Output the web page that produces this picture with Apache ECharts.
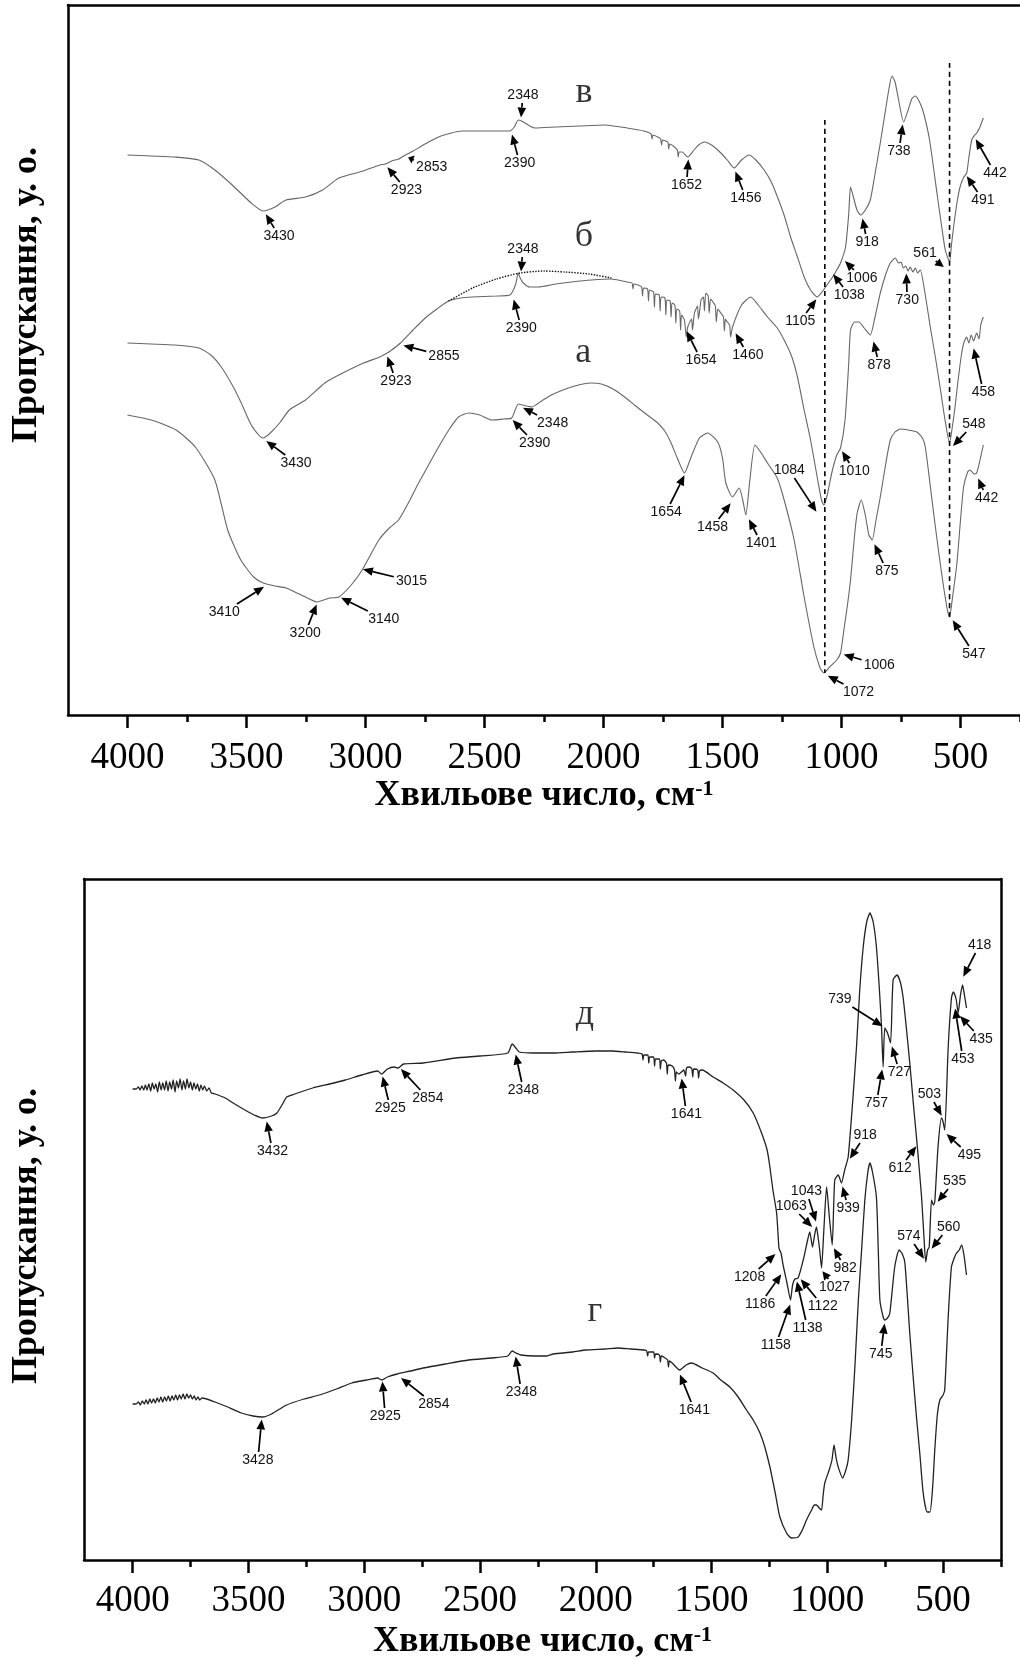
<!DOCTYPE html>
<html><head><meta charset="utf-8">
<script src="https://cdn.jsdelivr.net/npm/echarts@6/dist/echarts.min.js"></script>
<style>html,body{margin:0;padding:0;background:#fff}#c{width:1020px;height:1667px}</style>
</head><body><div id="c"></div>
<script>
// ---------- tick values (cm-1) ----------
const majorTicks = [4000,3500,3000,2500,2000,1500,1000,500];
const minorTicks = [3750,3250,2750,2250,1750,1250,750,250];

// ---------- top panel spectra: [wavenumber, transmittance a.u.] ----------
const spectrumV = [[4000,560],[3900,559],[3800,558],[3700,555],[3633,545],[3560,530],[3480,512],[3430,504],[3380,508],[3334,515],[3252,518],[3180,525],[3112,537],[3010,544],[2940,550],[2916,551],[2890,554],[2860,556],[2847,558],[2800,564],[2750,571],[2693,578],[2640,582],[2595,584],[2500,584],[2420,584],[2393,584],[2375,588],[2358,595],[2345,594],[2330,592],[2310,589],[2288,587],[2200,588],[2100,589],[1995,590],[1900,587],[1830,584],[1800,581],[1796,576],[1792,580],[1772,578],[1760,576],[1756,570],[1752,575],[1730,573],[1726,566],[1722,571],[1702,568],[1690,565],[1686,558],[1682,563],[1670,563],[1646,558],[1620,565],[1600,570],[1576,573],[1540,569],[1507,562],[1480,555],[1451,547],[1420,555],[1388,560],[1360,555],[1325,545],[1295,533],[1269,518],[1240,499],[1214,478],[1185,458],[1157,438],[1130,425],[1102,418],[1085,422],[1067,428],[1040,437],[1020,445],[1004,452],[983,468],[970,500],[962,528],[950,518],[935,505],[920,500],[900,505],[879,515],[860,540],[837,572],[815,605],[800,627],[788,639],[775,633],[760,615],[739,593],[720,605],[705,616],[690,619],[672,613],[655,602],[630,575],[599,522],[580,490],[564,465],[546,453],[538,470],[529,488],[515,512],[502,528],[488,537],[474,542],[465,557],[453,575],[440,580],[432,582],[420,587],[404,597]];
const spectrumB = [[4000,372],[3900,371],[3800,370],[3700,367],[3650,360],[3606,348],[3560,330],[3524,313],[3480,290],[3445,279],[3430,277],[3400,282],[3361,292],[3320,305],[3252,315],[3171,332],[3112,340],[3008,352],[2940,358],[2916,361],[2890,365],[2853,372],[2800,385],[2749,397],[2700,406],[2651,414],[2600,417],[2553,418],[2450,419],[2393,420],[2370,430],[2358,442],[2350,437],[2337,432],[2310,428],[2274,428],[2200,431],[2135,433],[2050,435],[1967,436],[1920,434],[1900,433],[1880,432],[1876,426],[1872,431],[1856,430],[1840,428],[1836,419],[1832,427],[1815,426],[1811,414],[1807,425],[1790,423],[1786,408],[1782,421],[1766,420],[1762,404],[1758,418],[1742,417],[1738,400],[1734,415],[1720,414],[1716,398],[1712,412],[1700,410],[1696,392],[1692,406],[1680,404],[1676,385],[1672,400],[1660,395],[1652,378],[1646,388],[1630,396],[1626,385],[1618,402],[1605,409],[1601,396],[1590,415],[1580,418],[1576,404],[1570,422],[1560,419],[1556,402],[1550,416],[1540,413],[1530,409],[1526,393],[1520,406],[1507,402],[1496,398],[1492,384],[1488,396],[1480,393],[1470,390],[1466,378],[1458,388],[1420,410],[1381,418],[1350,410],[1311,398],[1270,387],[1241,375],[1210,359],[1185,338],[1157,305],[1130,275],[1100,235],[1084,215],[1074,210],[1060,220],[1040,243],[1020,260],[1004,267],[985,295],[970,350],[962,385],[945,393],[927,393],[905,387],[879,380],[860,397],[837,422],[815,440],[795,452],[774,457],[760,452],[750,453],[740,447],[730,449],[720,444],[711,448],[700,443],[690,447],[680,442],[669,445],[648,420],[627,388],[605,357],[586,328],[565,295],[546,272],[535,287],[523,308],[510,335],[495,362],[485,373],[474,378],[465,372],[455,380],[445,374],[432,382],[422,376],[415,390],[404,398]];
const baselineB = [[2651,414],[2550,427],[2450,436],[2351,442],[2250,444],[2163,443],[2060,441],[1967,437]];
const spectrumA = [[4000,300],[3900,295],[3796,285],[3715,268],[3633,235],[3579,185],[3524,155],[3470,138],[3429,132],[3380,129],[3334,127],[3270,120],[3203,113],[3150,117],[3112,118],[3060,130],[3014,145],[2944,175],[2900,187],[2861,195],[2820,212],[2777,232],[2735,250],[2693,268],[2650,285],[2609,298],[2567,302],[2520,300],[2470,295],[2420,296],[2386,297],[2358,311],[2340,310],[2302,308],[2260,314],[2219,320],[2135,328],[2051,332],[2009,331],[1960,326],[1911,318],[1870,310],[1827,302],[1772,292],[1740,283],[1716,272],[1690,257],[1660,242],[1632,258],[1597,277],[1562,282],[1520,273],[1500,257],[1486,232],[1458,218],[1430,227],[1415,215],[1402,200],[1385,235],[1364,270],[1340,263],[1311,252],[1270,237],[1241,215],[1199,175],[1157,118],[1116,68],[1090,47],[1074,42],[1050,48],[1020,55],[1004,62],[990,85],[975,110],[962,135],[945,180],[934,202],[917,215],[900,200],[885,180],[871,175],[855,195],[837,218],[815,250],[795,275],[775,283],[753,286],[720,285],[683,283],[660,277],[648,268],[630,235],[613,202],[590,160],[571,128],[555,105],[546,98],[535,115],[515,152],[500,195],[487,228],[470,243],[460,245],[442,241],[432,242],[420,253],[404,270]];
const guideLine1 = [[1070,595],[1070,42]];
const guideLine2 = [[546,652],[546,98]];

// ---------- bottom panel spectra ----------
const spectrumD = [[4000,471],[3985,471],[3975,473],[3968,470],[3960,474],[3952,470],[3945,475],[3938,470],[3930,476],[3922,469],[3915,477],[3907,471],[3900,476],[3892,468],[3885,478],[3877,470],[3870,477],[3862,470],[3855,479],[3847,469],[3840,478],[3832,471],[3825,480],[3817,468],[3810,479],[3802,472],[3795,481],[3787,470],[3780,479],[3772,471],[3765,481],[3757,472],[3750,478],[3742,470],[3735,477],[3727,471],[3720,476],[3712,469],[3705,475],[3697,470],[3690,474],[3680,469],[3670,472],[3660,467],[3644,466],[3600,462],[3559,456],[3500,448],[3475,445],[3439,442],[3400,444],[3377,447],[3350,457],[3335,463],[3300,466],[3222,472],[3150,476],[3082,480],[3010,485],[2942,489],[2925,486],[2900,491],[2870,493],[2854,492],[2830,496],[2745,497],[2605,502],[2500,504],[2380,507],[2361,516],[2345,512],[2330,508],[2270,507],[2184,507],[2100,508],[2000,509],[1931,509],[1870,508],[1819,507],[1800,506],[1796,500],[1792,505],[1775,505],[1771,497],[1767,503],[1750,503],[1746,494],[1742,501],[1725,501],[1721,491],[1717,499],[1707,500],[1695,497],[1691,486],[1687,495],[1670,494],[1660,490],[1656,479],[1652,488],[1641,486],[1620,490],[1612,484],[1608,492],[1594,493],[1585,491],[1581,483],[1577,491],[1560,490],[1556,482],[1552,489],[1540,490],[1493,483],[1450,477],[1407,470],[1360,460],[1320,447],[1284,427],[1260,410],[1248,393],[1235,370],[1219,347],[1210,315],[1208,311],[1200,307],[1191,295],[1175,278],[1159,260],[1150,275],[1140,281],[1126,282],[1104,300],[1085,320],[1076,328],[1064,313],[1055,325],[1047,333],[1040,323],[1033,310],[1025,292],[1015,330],[1003,373],[992,345],[979,315],[968,380],[953,385],[939,377],[925,390],[910,403],[890,460],[874,513],[860,570],[845,613],[830,638],[816,647],[802,638],[788,613],[775,570],[766,533],[759,493],[752,532],[740,527],[727,517],[716,580],[699,585],[685,578],[673,563],[660,535],[644,497],[628,455],[612,415],[593,363],[582,320],[575,298],[567,310],[560,313],[550,360],[542,355],[536,358],[522,413],[507,442],[500,438],[493,430],[478,513],[464,562],[456,568],[449,565],[443,560],[435,547],[425,565],[416,575],[408,565],[399,552]];
const spectrumG = [[4000,156],[3985,156],[3975,158],[3967,155],[3958,159],[3950,156],[3942,160],[3934,156],[3926,161],[3918,157],[3910,161],[3902,157],[3894,162],[3886,158],[3878,163],[3870,158],[3862,163],[3854,159],[3846,164],[3838,159],[3830,164],[3822,160],[3814,165],[3806,160],[3798,165],[3790,161],[3782,166],[3774,161],[3766,166],[3758,162],[3750,165],[3742,161],[3734,164],[3726,160],[3718,163],[3710,160],[3700,162],[3644,158],[3600,154],[3531,147],[3480,144],[3439,143],[3400,146],[3335,155],[3260,161],[3194,165],[3120,171],[3054,177],[2990,180],[2942,182],[2925,180],[2900,183],[2858,186],[2800,189],[2745,192],[2650,196],[2549,200],[2450,202],[2380,204],[2361,209],[2345,207],[2324,205],[2260,204],[2212,204],[2184,206],[2100,208],[2044,210],[1960,211],[1903,212],[1850,211],[1791,210],[1780,209],[1776,204],[1772,208],[1750,208],[1746,202],[1742,206],[1725,205],[1721,198],[1717,204],[1707,203],[1690,200],[1686,193],[1682,199],[1670,197],[1637,190],[1610,195],[1586,197],[1540,192],[1493,187],[1460,180],[1421,173],[1385,163],[1349,150],[1320,140],[1291,127],[1270,113],[1248,93],[1225,67],[1205,43],[1176,27],[1155,22],[1126,23],[1108,30],[1090,40],[1068,50],[1056,55],[1047,55],[1035,52],[1025,50],[1018,65],[1011,77],[992,90],[980,100],[971,115],[962,102],[953,93],[934,82],[920,90],[910,100],[895,140],[881,193],[866,260],[852,310],[838,360],[825,388],[816,397],[805,388],[788,363],[780,310],[773,260],[760,244],[752,240],[740,242],[730,247],[709,293],[690,310],[676,306],[665,297],[644,227],[630,185],[615,143],[600,105],[586,67],[569,48],[557,48],[546,70],[536,110],[525,145],[514,160],[500,165],[493,170],[478,243],[464,293],[452,302],[442,307],[430,310],[420,315],[410,305],[399,285]];

// ---------- peak annotations: [label, wavenumber, a.u.] ----------
const topNotes = [
 ['3430',3422,502],['2923',2912,549],['2853',2827,558],['2390',2386,582],['2348',2347,596],['1652',1643,557],['1456',1448,545],['1105',1102,417],['1038',1039,442],['1006',990,455],['918',913,498],['738',742,592],['561',565,447],['491',477,540],['442',439,577],
 ['3430',3422,275],['2923',2910,360],['2855',2847,370],['2390',2379,417],['2348',2347,442],['1654',1653,385],['1460',1448,383],['1084',1102,202],['1010',1001,265],['878',867,375],['730',728,443],['548',536,268],['458',446,368],
 ['3410',3421,129],['3200',3203,112],['3140',3108,118],['3015',3017,146],['2390',2386,296],['2348',2344,308],['1654',1657,241],['1458',1462,213],['1401',1392,197],['875',864,172],['1072',1063,40],['1006',997,61],['547',536,96],['442',428,238]
];
const bottomNotes = [
 ['3432',3422,440],['2925',2922,485],['2854',2846,492],['2348',2347,507],['1641',1630,483],['739',756,533],['757',762,492],['727',723,515],['418',416,582],['435',431,545],['453',449,553],['503',503,443],['495',490,427],['612',612,415],['918',906,400],['939',936,375],['535',528,357],['1043',1047,337],['1063',1061,332],['982',975,313],['1027',1025,290],['574',579,300],['560',554,310],['1208',1219,307],['1186',1195,287],['1158',1158,257],['1138',1133,280],['1122',1119,282],
 ['745',752,238],['3428',3442,142],['2925',2922,180],['2854',2846,183],['2348',2347,205],['1641',1639,187]
];
const topLetters = [['в',2082,622],['б',2082,478],['а',2085,362]];
const bottomLetters = [['д',2047,545],['г',2004,248]];

// ---------- layout (label offsets in px relative to arrow tip) ----------
const topNoteOffsets = [
 [14,23],[20,24],[25,10],[8,30],[2,-24],[-2,27],[11,28],[-17,23],[17,22],[18,18],[5,25],[-4,28],[-20,-15],[17,25],[20,35],
 [31,23],[9,26],[42,11],[8,30],[2,-24],[15,30],[13,23],[-28,-43],[13,21],[6,25],[1,28],[22,-23],[10,45],
 [-41,26],[-12,30],[44,22],[50,12],[23,24],[31,16],[-19,38],[-19,25],[13,25],[13,28],[32,17],[37,11],[22,35],[9,21]
];
const bottomNoteOffsets = [
 [6,31],[8,33],[28,30],[8,37],[5,37],[-44,-28],[-6,35],[8,27],[17,-33],[22,24],[8,52],[-13,-23],[24,22],[-17,23],[16,-25],[6,23],[18,-22],[-10,-32],[-22,-22],[12,21],[13,17],[-16,-24],[18,-23],[-27,24],[-22,31],[-15,42],[11,48],[23,28],
 [-4,32],[-4,42],[3,36],[34,27],[6,37],[15,37]
];

const chart = echarts.init(document.getElementById('c'), null, {renderer:'canvas'});
const SERIF = '"Liberation Serif","Times New Roman",serif';
const SANS = '"Liberation Sans",Arial,sans-serif';

function noteSeries(xi, yi, notes, offsets) {
  return {
    type:'custom', coordinateSystem:'cartesian2d', xAxisIndex:xi, yAxisIndex:yi,
    silent:true, clip:false, z:10,
    data: notes.map((n,i)=>[n[1], n[2], i]),
    renderItem(params, api) {
      const i = api.value(2);
      const p = api.coord([api.value(0), api.value(1)]);
      const off = offsets[i];
      const txt = notes[i][0];
      const cx = p[0]+off[0], cy = p[1]+off[1];
      const d = Math.hypot(off[0], off[1]);
      const ux = off[0]/d, uy = off[1]/d;
      const hw = txt.length*3.9+2, hh = 8;
      const t = Math.min(Math.abs(ux)>1e-6 ? hw/Math.abs(ux) : 1e9, Math.abs(uy)>1e-6 ? hh/Math.abs(uy) : 1e9);
      const tail = [cx-ux*t, cy-uy*t];
      const tip = [p[0]+ux*1.5, p[1]+uy*1.5];
      const L = Math.hypot(tail[0]-tip[0], tail[1]-tip[1]);
      const children = [];
      if (L > 3) {
        const head = Math.min(10, L*0.85);
        const bx = tip[0]+ux*head, by = tip[1]+uy*head;
        const nx = -uy, ny = ux;
        children.push({type:'line', shape:{x1:tail[0], y1:tail[1], x2:bx, y2:by}, style:{stroke:'#000', lineWidth:1.7}});
        children.push({type:'polygon', shape:{points:[tip,[bx+nx*4.3, by+ny*4.3],[bx-nx*4.3, by-ny*4.3]]}, style:{fill:'#000'}});
      }
      children.push({type:'text', style:{text:txt, x:cx, y:cy, align:'center', verticalAlign:'middle', font:'14px '+SANS, fill:'#111'}});
      return {type:'group', children};
    }
  };
}
function letterSeries(xi, yi, letters) {
  return {
    type:'scatter', xAxisIndex:xi, yAxisIndex:yi, symbolSize:2, itemStyle:{color:'rgba(0,0,0,0)'}, silent:true, z:10,
    data: letters.map(l=>({name:l[0], value:[l[1], l[2]]})),
    label:{show:true, position:'inside', formatter:'{b}', fontFamily:SERIF, fontSize:36, color:'#000'},
    labelLayout:{hideOverlap:false}
  };
}
function lineSeries(xi, yi, data, color, width, type) {
  return {type:'line', xAxisIndex:xi, yAxisIndex:yi, data, showSymbol:false, symbol:'none', smooth:0.2,
    lineStyle:{color, width, type:type||'solid'}, silent:true, z:5};
}
const AXW = 2.5;
function mainX(idx, max, margin, gap) {
  return {
    type:'value', gridIndex:idx, min:250, max, inverse:true, position:'bottom', splitLine:{show:false},
    axisLine:{show:true, onZero:false, lineStyle:{color:'#000', width:AXW}},
    axisTick:{show:true, customValues:majorTicks, length:13, lineStyle:{color:'#000', width:AXW}},
    axisLabel:{show:true, customValues:majorTicks, margin, fontFamily:SERIF, fontSize:37, color:'#000', formatter:v=>String(v)},
    name:'{a|Хвильове число, см}{b|-1}', nameLocation:'middle', nameGap:gap,
    nameTextStyle:{rich:{a:{fontFamily:SERIF, fontWeight:'bold', fontSize:36, color:'#000'}, b:{fontFamily:SERIF, fontWeight:'bold', fontSize:22, color:'#000', verticalAlign:'top'}}}
  };
}
function minorX(idx, max) {
  return {
    type:'value', gridIndex:idx, min:250, max, inverse:true, position:'bottom', splitLine:{show:false},
    axisLine:{show:false, onZero:false},
    axisTick:{show:true, customValues:minorTicks, length:7, lineStyle:{color:'#000', width:AXW}},
    axisLabel:{show:false}
  };
}
function topX(idx, max) {
  return {
    type:'value', gridIndex:idx, min:250, max, inverse:true, position:'top', splitLine:{show:false},
    axisLine:{show:true, onZero:false, lineStyle:{color:'#000', width:AXW}},
    axisTick:{show:false}, axisLabel:{show:false}
  };
}
function leftY(idx, max) {
  return {type:'value', gridIndex:idx, min:0, max, position:'left', splitLine:{show:false},
    axisLine:{show:true, onZero:false, lineStyle:{color:'#000', width:AXW}}, axisTick:{show:false}, axisLabel:{show:false}};
}
function rightY(idx, max, visible) {
  return {type:'value', gridIndex:idx, min:0, max, position:'right', splitLine:{show:false},
    axisLine:{show:visible, onZero:false, lineStyle:{color:'#000', width:AXW}}, axisTick:{show:false}, axisLabel:{show:false}};
}

// axis indices: x 0 = top main, 1 = top minor, 2 = top border, 3 = bottom main, 4 = bottom minor, 5 = bottom border
chart.setOption({
  animation:false,
  backgroundColor:'#fff',
  grid:[
    {left:68, top:5, width:955, height:710},
    {left:68, top:5, width:955, height:710},
    {left:84, top:879, width:917, height:681},
    {left:84, top:879, width:917, height:681}
  ],
  xAxis:[ mainX(0, 4250, 25, 55), minorX(1, 4250), topX(1, 4250), mainX(2, 4210, 23, 64), minorX(3, 4210), topX(3, 4210) ],
  yAxis:[ leftY(0,710), rightY(1,710,false), leftY(2,681), rightY(3,681,true) ],
  graphic:[
    {type:'text', x:27, y:295, rotation:Math.PI/2, style:{text:'Пропускання, у. о.', font:'bold 36px '+SERIF, fill:'#000', align:'center', verticalAlign:'middle'}},
    {type:'text', x:27, y:1236, rotation:Math.PI/2, style:{text:'Пропускання, у. о.', font:'bold 36px '+SERIF, fill:'#000', align:'center', verticalAlign:'middle'}}
  ],
  series:[
    lineSeries(0, 0, spectrumV, '#666', 1.1),
    lineSeries(0, 0, spectrumB, '#666', 1.1),
    lineSeries(0, 0, spectrumA, '#666', 1.1),
    lineSeries(0, 0, baselineB, '#111', 1.4, 'dotted'),
    lineSeries(0, 0, guideLine1, '#000', 1.6, [5,4]),
    lineSeries(0, 0, guideLine2, '#000', 1.6, [5,4]),
    noteSeries(0, 0, topNotes, topNoteOffsets),
    letterSeries(0, 0, topLetters),
    lineSeries(3, 2, spectrumD, '#222', 1.3),
    lineSeries(3, 2, spectrumG, '#222', 1.3),
    noteSeries(3, 2, bottomNotes, bottomNoteOffsets),
    letterSeries(3, 2, bottomLetters)
  ]
});
</script></body></html>
